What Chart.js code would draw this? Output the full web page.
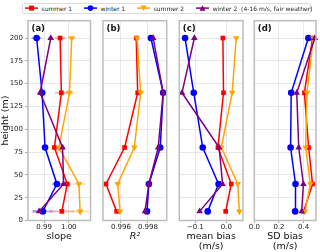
<!DOCTYPE html>
<html><head><meta charset="utf-8">
<script src="https://cdn.jsdelivr.net/npm/chart.js@4/dist/chart.umd.min.js"></script>
<style>
html,body{margin:0;padding:0;background:#fff;}
body{width:320px;height:252px;position:relative;overflow:hidden;font-family:'DejaVu Sans',sans-serif;}
canvas{position:absolute;left:0;top:0;}
#legend{position:absolute;left:21.5px;top:2.5px;width:289px;height:11px;box-sizing:border-box;border:1px solid #dcdcdc;border-radius:2px;display:flex;align-items:center;padding-left:2px;font-size:6px;color:#222;white-space:pre;z-index:5;background:#fff;}
.item{display:flex;align-items:center;margin-right:11.5px;}
.item svg{margin-right:4px;}
</style></head>
<body>
<div id="legend"></div>
<canvas id="ca" width="320" height="252"></canvas>
<canvas id="cb" width="320" height="252"></canvas>
<canvas id="cc" width="320" height="252"></canvas>
<canvas id="cd" width="320" height="252"></canvas>
<script>
// ---- data ----
const heights = [10, 40, 80, 140, 200];
const seriesNames = ['summer 1', 'winter 1', 'summer 2', 'winter 2  (4-16 m/s, fair weather)'];

const slopeSummer1 = [0.9972, 0.9994, 0.9942, 0.9970, 0.9965];
const slopeWinter1 = [0.9895, 0.9952, 0.9904, 0.9892, 0.9870];
const slopeSummer2 = [1.0046, 1.0041, 0.9960, 1.0003, 1.0012];
const slopeWinter2 = [0.9880, 0.9979, 0.9975, 0.9884, 0.9927];

const slopeErrSummer1 = [0.0050, 0.0015, 0.0010, 0.0025, 0.0022];
const slopeErrWinter1 = [0.0040, 0.0020, 0.0010, 0.0015, 0.0020];
const slopeErrSummer2 = [0.0036, 0.0026, 0.0010, 0.0020, 0.0018];
const slopeErrWinter2 = [0.0030, 0.0010, 0.0010, 0.0010, 0.0010];

const r2Summer1 = [0.99568, 0.99489, 0.99627, 0.99724, 0.99713];
const r2Winter1 = [0.99793, 0.99807, 0.99891, 0.99913, 0.99822];
const r2Summer2 = [0.99593, 0.99576, 0.99699, 0.99746, 0.99719];
const r2Winter2 = [0.99778, 0.99807, 0.99876, 0.99913, 0.99839];

const biasSummer1 = [-0.002, 0.016, -0.027, -0.009, -0.011];
const biasWinter1 = [-0.060, -0.025, -0.076, -0.105, -0.133];
const biasSummer2 = [0.042, 0.037, -0.016, 0.019, 0.032];
const biasWinter2 = [-0.086, -0.012, -0.023, -0.143, -0.103];

const sdSummer1 = [0.400, 0.472, 0.440, 0.406, 0.472];
const sdWinter1 = [0.331, 0.334, 0.294, 0.299, 0.438];
const sdSummer2 = [0.411, 0.454, 0.416, 0.427, 0.478];
const sdWinter2 = [0.384, 0.398, 0.360, 0.344, 0.491];

const yTicks = [0, 25, 50, 75, 100, 125, 150, 175, 200];
const slopeTicks = [0.99, 1.00];
const r2Ticks = [0.996, 0.998];
const biasTicks = [-0.1, 0.0];
const sdTicks = [0.0, 0.2, 0.4];

// ---- styles ----
const colors = ['#ff0000', '#0000ff', '#ffa500', '#800080'];
const pStyles = ['rect', 'circle', 'triangle', 'triangle'];
const pRot = [0, 0, 180, 0];
const pRad = [3.3, 3.3, 3.8, 3.8];
const FONT = "'DejaVu Sans', sans-serif";

// legend
const leg = document.getElementById('legend');
const symSvg = i => {
  let m = '';
  if (i === 0) m = '<rect x="4" y="1.6" width="5" height="5" fill="' + colors[i] + '"/>';
  if (i === 1) m = '<circle cx="6.5" cy="4.1" r="2.8" fill="' + colors[i] + '"/>';
  if (i === 2) m = '<polygon points="3.5,1.5 9.5,1.5 6.5,7" fill="' + colors[i] + '"/>';
  if (i === 3) m = '<polygon points="3.5,6.8 9.5,6.8 6.5,1.2" fill="' + colors[i] + '"/>';
  return '<svg width="13" height="8" viewBox="0 0 13 8"><line x1="0" y1="4.1" x2="13" y2="4.1" stroke="' + colors[i] + '" stroke-width="1.5"/>' + m + '</svg>';
};
seriesNames.forEach((n, i) => {
  const d = document.createElement('div');
  d.className = 'item';
  d.innerHTML = symSvg(i) + '<span></span>';
  d.querySelector('span').textContent = n;
  leg.appendChild(d);
});

const framePlugin = {
  id: 'frame',
  afterDraw(chart) {
    const a = chart.chartArea, c = chart.ctx;
    c.save();
    c.strokeStyle = '#bdbdbd';
    c.lineWidth = 1.5;
    c.strokeRect(a.left, a.top, a.right - a.left, a.bottom - a.top);
    c.restore();
  }
};
const panelLabelPlugin = {
  id: 'plabel',
  afterDraw(chart, args, opts) {
    const a = chart.chartArea, c = chart.ctx;
    c.save();
    c.font = "bold 8.5px " + FONT;
    c.fillStyle = '#111';
    c.textBaseline = 'alphabetic';
    c.fillText(opts.text, a.left + 3.5, a.top + 10.3);
    c.restore();
  }
};
const errPlugin = {
  id: 'errbars',
  beforeDatasetsDraw(chart, args, opts) {
    if (!opts.errs) return;
    const c = chart.ctx, xs = chart.scales.x, ys = chart.scales.y;
    c.save();
    c.globalAlpha = 0.3;
    c.lineWidth = 2;
    opts.errs.forEach((errArr, i) => {
      c.strokeStyle = colors[i];
      const vals = opts.vals[i];
      heights.forEach((h, j) => {
        const y = ys.getPixelForValue(h);
        c.beginPath();
        c.moveTo(xs.getPixelForValue(vals[j] - errArr[j]), y);
        c.lineTo(xs.getPixelForValue(vals[j] + errArr[j]), y);
        c.stroke();
      });
    });
    c.restore();
  }
};

function makePanel(id, vals, errs, ticks, dec, xmin, xmax, left, right, title, italic, titlePadB, label, showY) {
  const yW = showY ? 28 : 0;
  const padL = left - yW;
  return new Chart(document.getElementById(id), {
    type: 'scatter',
    data: {
      datasets: vals.map((v, i) => ({
        label: seriesNames[i],
        data: heights.map((h, j) => ({x: v[j], y: h})),
        showLine: true,
        borderColor: colors[i],
        backgroundColor: colors[i],
        borderWidth: 1.5,
        pointStyle: pStyles[i],
        rotation: pRot[i],
        pointRadius: pRad[i],
        pointBorderWidth: 0,
        order: 4 - i,
        clip: false
      }))
    },
    options: {
      responsive: false,
      animation: false,
      events: [],
      layout: {padding: {left: padL, right: 320 - right, top: 20.7, bottom: 0}},
      plugins: {
        legend: {display: false},
        tooltip: {enabled: false},
        errbars: {errs: errs, vals: vals},
        plabel: {text: label}
      },
      scales: {
        x: {
          type: 'linear', min: xmin, max: xmax,
          afterBuildTicks: s => { s.ticks = ticks.map(v => ({value: v})); },
          afterFit: s => { s.height = 31.5; },
          ticks: {
            callback: v => (v < 0 ? '\u2212' : '') + Math.abs(v).toFixed(dec),
            font: {size: 7, family: FONT}, color: '#222', padding: 0, maxRotation: 0, autoSkip: false
          },
          grid: {color: '#e2e2e2', lineWidth: 0.8, tickColor: '#999', tickLength: 2.5, tickWidth: 0.8},
          border: {display: false},
          title: {display: true, text: title, color: '#111',
                  font: {size: 9.5, family: FONT, style: italic ? 'italic' : 'normal', lineHeight: 1.105},
                  padding: {top: 0, bottom: titlePadB}}
        },
        y: {
          type: 'linear', min: 0, max: 219,
          afterBuildTicks: s => { s.ticks = yTicks.map(v => ({value: v})); },
          afterFit: s => { s.width = yW; },
          ticks: {display: showY, font: {size: 7, family: FONT}, color: '#222', padding: 2},
          grid: {color: '#e2e2e2', lineWidth: 0.8, drawTicks: showY, tickColor: '#999', tickLength: 3, tickWidth: 0.8},
          border: {display: false},
          title: {display: showY, text: 'height (m)', color: '#111',
                  font: {size: 9.5, family: FONT, lineHeight: 1.16}, padding: {top: 0.5, bottom: 0}}
        }
      }
    },
    plugins: [errPlugin, framePlugin, panelLabelPlugin]
  });
}

makePanel('ca', [slopeSummer1, slopeWinter1, slopeSummer2, slopeWinter2],
  [slopeErrSummer1, slopeErrWinter1, slopeErrSummer2, slopeErrWinter2],
  slopeTicks, 2, 0.9835, 1.0088, 28, 90.5, 'slope', false, 10.25, '(a)', true);
makePanel('cb', [r2Summer1, r2Winter1, r2Summer2, r2Winter2], null,
  r2Ticks, 3, 0.99467, 0.99939, 103, 166.7, 'R\u00b2', true, 10.25, '(b)', false);
makePanel('cc', [biasSummer1, biasWinter1, biasSummer2, biasWinter2], null,
  biasTicks, 1, -0.1516, 0.0539, 179.3, 243, ['mean bias', '(m/s)'], false, -0.25, '(c)', false);
makePanel('cd', [sdSummer1, sdWinter1, sdSummer2, sdWinter2], null,
  sdTicks, 1, 0.0, 0.5, 254.3, 316.8, ['SD bias', '(m/s)'], false, -0.25, '(d)', false);
</script>
</body></html>
